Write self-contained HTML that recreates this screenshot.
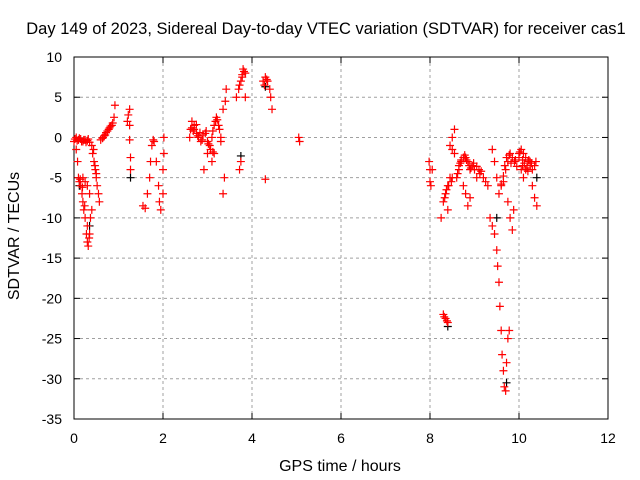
<!DOCTYPE html>
<html><head><meta charset="utf-8"><style>
body{margin:0;background:#fff}
svg{display:block;font-family:"Liberation Sans",sans-serif;font-size:14px}
</style></head><body>
<svg id="c" width="640" height="480" xmlns="http://www.w3.org/2000/svg">
<rect width="640" height="480" fill="#fff"/>
<text x="326" y="34" text-anchor="middle" style="font-size:16.5px">Day 149 of 2023, Sidereal Day-to-day VTEC variation (SDTVAR) for receiver cas1</text>
<text x="340" y="471" text-anchor="middle" style="font-size:16px">GPS time / hours</text>
<text transform="translate(19,236) rotate(-90)" text-anchor="middle" style="font-size:16px">SDTVAR / TECUs</text>
<g id="grid"></g>
<g id="ax"></g>
<g id="pts"></g>
</svg>
<script>
const xTicks=[0,2,4,6,8,10,12];
const yTicks=[10,5,0,-5,-10,-15,-20,-25,-30,-35];
const redT=[0,0.05,0.1,0.15,0.2,0.25,0.3,0.35,0.4,0.05,0.08,0.1,0.12,0.15,0.18,0.2,0.22,0.25,0.28,0.3,0.32,0.35,0.37,0.4,0.2,0.25,0.3,0.35,0.42,0.45,0.48,0.5,0.52,0.55,0.57,0.6,0.65,0.7,0.75,0.8,0.85,0.9,0.92,1.2,1.22,1.25,1.25,1.25,1.27,1.27,1.55,1.6,1.65,1.7,1.72,1.75,1.78,1.8,1.85,1.9,1.92,1.95,2.0,2.0,2.02,2.02,2.6,2.62,2.65,2.7,2.75,2.8,2.85,2.9,2.95,3.0,3.05,3.1,3.15,3.2,3.25,3.3,3.0,3.1,3.15,2.92,3.35,3.38,3.35,3.4,3.42,3.65,3.7,3.75,3.8,3.85,3.85,3.75,3.72,4.25,4.3,4.35,4.4,4.42,4.45,4.3,5.05,5.07,7.98,8.0,8.0,8.02,8.05,8.3,8.35,8.4,8.3,8.35,8.4,8.45,8.4,8.25,8.45,8.5,8.55,8.5,8.5,8.6,8.65,8.7,8.75,8.8,8.85,8.9,8.95,9.0,9.1,9.2,9.3,8.75,8.8,8.85,8.9,9.35,9.4,9.45,9.5,9.52,9.55,9.57,9.6,9.62,9.65,9.67,9.7,9.72,9.75,9.78,9.4,9.45,9.5,9.55,9.6,9.65,9.7,9.75,9.8,9.85,9.9,9.75,9.8,9.85,9.88,10.0,10.05,10.1,10.15,10.2,10.25,10.3,10.35,10.4,10.38,10.05,10.1,10.15,
0.02,0.07,0.12,0.17,0.22,0.27,0.32,0.14,0.19,0.24,0.3,0.34,0.44,0.47,0.5,0.68,0.72,0.78,0.82,0.87,0.64,2.65,2.7,2.78,2.83,2.88,2.97,3.02,3.07,3.12,3.18,3.22,2.68,2.75,3.12,3.27,3.3,3.78,3.82,4.28,4.33,8.55,8.65,8.7,8.78,8.82,8.88,8.92,8.98,9.05,9.12,9.15,9.25,9.05,8.62,8.68,9.6,9.65,9.68,9.72,9.78,9.82,9.92,9.95,10.0,10.02,10.08,10.12,10.18,10.22,10.28,10.3,10.35,10.2,10.25,10.08,8.33,8.37,8.42,8.48,3.72,3.78,8.38,8.32];
const redV=[-0.5,0,-0.3,-0.2,-0.5,-0.3,-0.4,-0.6,-1,-1.5,-3,-5,-5.5,-6,-7,-8,-9,-10,-12,-13,-13.5,-12,-10,-9,-5,-5.5,-6,-7,-2,-3,-4,-5,-6,-7,-8,-0.3,0,0.3,0.8,1.2,1.5,2.5,4,2,2.8,3.5,1.5,-0.3,-2.5,-4,-8.5,-8.8,-7,-5,-3,-1,-0.3,-0.5,-3,-6,-8,-9,-7,-4,-2,0,0,1,2,1.5,0.5,0,-0.5,0.3,0.5,-0.5,-1,0,1.5,2.5,1.5,0,-2,-3,-2,-4,-7,-5,3.5,4.5,6,5,6,7,8.5,8,5,-3,-4,7,7.5,7,6,5,3.5,-5.2,0,-0.5,-3,-4,-5.5,-6,-4,-22,-22.5,-23,-8,-7,-6,-5,-9,-10,-1,0,1,-1.5,-5,-5,-4,-3,-2.5,-2.5,-3,-4,-3.5,-4,-4,-5,-6,-6,-7,-8.5,-7.5,-10,-11,-12,-14,-16,-18,-21,-24,-27,-29,-31,-31.5,-28,-25,-24,-1.5,-3,-5,-7,-6,-5.5,-4,-3,-2,-2.5,-3,-8,-10,-11.5,-9,-2,-1.5,-2,-2.5,-3,-3.5,-6,-7.5,-8.5,-3,-4,-5,-4,
-0.2,-0.4,-0.1,-0.5,-0.3,-0.6,-0.2,-5.2,-6.2,-8.5,-11,-12.5,-1.5,-3.5,-4.5,0.2,0.6,1,1.4,1.8,-0.1,1.2,1,0.2,0.6,-0.3,0.8,-0.8,-1.5,0.8,2,2.2,0.8,1.6,-1.8,1,-0.5,7.5,8.2,6.5,7.2,-2,-3.5,-2.8,-2.2,-2.8,-3.5,-3.8,-3.2,-3.6,-4.5,-4.2,-5.5,-5,-4.5,-3.2,-5.8,-4.8,-3.5,-2.5,-2.2,-3.2,-2.8,-3.6,-2.5,-1.8,-2.8,-3.2,-3.8,-2.8,-3.2,-4,-3.5,-4.2,-3,-3.5,-7.5,-6.5,-6,-5.5,6.5,7.8,-22.8,-22.3];
const blackT=[0.12,0.35,1.27,3.75,4.3,8.4,9.5,9.72,10.4];
const blackV=[-6,-11,-5,-2.3,6.3,-23.5,-10,-30.5,-5];
const L=74,R=608,T=57,B=419;
const X=h=>L+(h-0)/12*(R-L);
const Y=v=>T+(10-v)/45*(B-T);
const NS="http://www.w3.org/2000/svg";
function mk(tag,at,parent){const e=document.createElementNS(NS,tag);for(const k in at)e.setAttribute(k,at[k]);parent.appendChild(e);return e;}
const grid=document.getElementById('grid'),ax=document.getElementById('ax'),pts=document.getElementById('pts');
xTicks.forEach(t=>{
 const x=X(t);
 if(t>0&&t<12){const g=mk('line',{x1:x,y1:T,x2:x,y2:B,stroke:'#a0a0a0','stroke-dasharray':'3,3'},grid);
 
 }
 mk('line',{x1:x,y1:B,x2:x,y2:B-6,stroke:'#000'},ax);
 mk('line',{x1:x,y1:T,x2:x,y2:T+6,stroke:'#000'},ax);
 const tx=mk('text',{x:x,y:B+24,'text-anchor':'middle'},ax);tx.textContent=t;
 
 
});
yTicks.forEach(t=>{
 const y=Y(t);
 if(t<10&&t>-35){const g=mk('line',{x1:L,y1:y,x2:R,y2:y,stroke:'#a0a0a0','stroke-dasharray':'3,3'},grid);
 
 }
 mk('line',{x1:L,y1:y,x2:L+6,y2:y,stroke:'#000'},ax);
 mk('line',{x1:R,y1:y,x2:R-6,y2:y,stroke:'#000'},ax);
 const tx=mk('text',{x:L-12,y:y+5,'text-anchor':'end'},ax);tx.textContent=t;
 
 
});
mk('rect',{x:L,y:T,width:R-L,height:B-T,fill:'none',stroke:'#000'},ax);
function plus(h,v,col){
 const x=X(h),y=Y(v);
 const p=mk('path',{d:`M${x-4},${y}H${x+4}M${x},${y-4}V${y+4}`,stroke:col,'stroke-width':1.2,fill:'none'},pts);
 
 
}
blackT.forEach((t,i)=>plus(t,blackV[i],'#000'));
redT.forEach((t,i)=>{plus(t,redV[i],'#ff0000');});
</script>
</body></html>
